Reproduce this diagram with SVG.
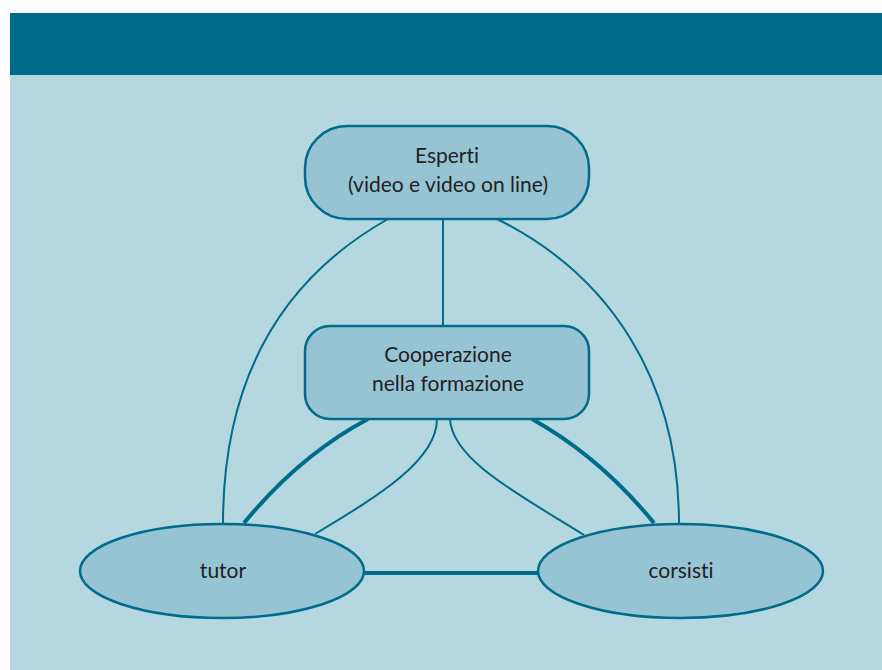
<svg xmlns="http://www.w3.org/2000/svg" width="882" height="670" viewBox="0 0 882 670">
<style>
.node{fill:#97C4D5;stroke:#006B8A;stroke-width:2.5}
.lbl{font-family:Lato,"Liberation Sans",sans-serif;font-size:21px;fill:#231F20;text-anchor:middle;font-variant-ligatures:none}
.thin{fill:none;stroke:#006B8A;stroke-width:2}
.thick{fill:none;stroke:#006B8A;stroke-width:4}
</style>
<rect x="0" y="0" width="882" height="670" fill="#ffffff"/>
<rect x="10" y="75" width="872" height="595" fill="#B5D8E0"/>
<rect x="10" y="13" width="872" height="62" fill="#006B8A"/>
<g id="connectors">
<path class="thin" d="M443,219 L443,326"/>
<path class="thin" d="M388,219 C280,280 223,380 223,524"/>
<path class="thin" d="M497,219 C610,275 679,380 679,524"/>
<path class="thick" d="M368,419 Q300,455 244,523"/>
<path class="thin" d="M437,419 C437,460 380,495 315,534"/>
<path class="thick" d="M532,419 Q600,457 654,523"/>
<path class="thin" d="M450,419 C452,460 520,495 584,535"/>
<path class="thick" d="M364,573 L538,573"/>
</g>
<g id="esperti">
<rect class="node" x="305" y="126" width="284" height="93" rx="42" ry="42"/>
<text class="lbl" x="447" y="163">Esperti</text>
<text class="lbl" x="448" y="192">(video e video on line)</text>
</g>
<g id="cooperazione">
<rect class="node" x="305" y="326" width="284" height="93" rx="25" ry="25"/>
<text class="lbl" x="448" y="362">Cooperazione</text>
<text class="lbl" x="448" y="391">nella formazione</text>
</g>
<g id="tutor">
<ellipse class="node" cx="222" cy="571" rx="142" ry="47"/>
<text class="lbl" x="223" y="578">tutor</text>
</g>
<g id="corsisti">
<ellipse class="node" cx="680.5" cy="571" rx="142.5" ry="47"/>
<text class="lbl" x="681" y="578">corsisti</text>
</g>
</svg>
